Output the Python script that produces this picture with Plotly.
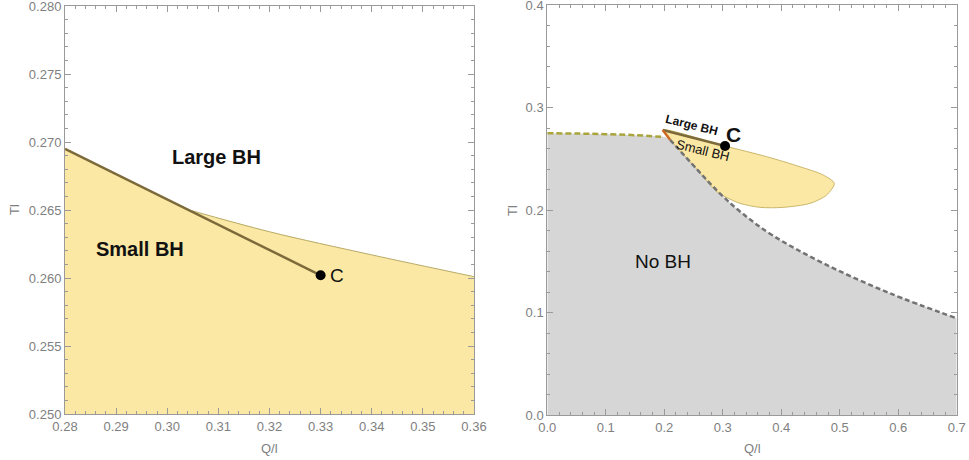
import plotly.graph_objects as go

# ---------------- Left panel data ----------------
left_boundary_x = [0.28, 0.3048, 0.32, 0.34, 0.36]
left_boundary_y = [0.2695, 0.26495, 0.2634, 0.2617, 0.2601]
left_coex_x = [0.28, 0.33]
left_coex_y = [0.2695, 0.2602]
left_spin_x = [0.3048, 0.32, 0.34, 0.36]
left_spin_y = [0.26495, 0.2634, 0.2617, 0.2601]
left_crit_x = [0.33]
left_crit_y = [0.2602]

# ---------------- Right panel data ----------------
nobh_x = [0.0, 0.05, 0.1, 0.15, 0.2, 0.21, 0.2554, 0.2953, 0.335, 0.386, 0.472, 0.586, 0.7]
nobh_y = [0.2748, 0.2746, 0.2740, 0.2730, 0.2712, 0.2685, 0.240, 0.216, 0.196, 0.175, 0.148, 0.1187, 0.0943]
top_dash_x = [0.0, 0.05, 0.1, 0.15, 0.2]
top_dash_y = [0.2748, 0.2746, 0.2740, 0.2730, 0.2712]
side_dash_x = [0.21, 0.2554, 0.2953, 0.335, 0.386, 0.472, 0.586, 0.7]
side_dash_y = [0.2685, 0.240, 0.216, 0.196, 0.175, 0.148, 0.1187, 0.0943]
lobe_x = [0.1973, 0.3039, 0.3751, 0.4321, 0.4719, 0.4907, 0.4775, 0.4492, 0.4035,
          0.3637, 0.3295, 0.3039, 0.2896, 0.2554, 0.21, 0.1973]
lobe_y = [0.278, 0.2624, 0.252, 0.2422, 0.2341, 0.226, 0.2146, 0.2065, 0.2026,
          0.2026, 0.2065, 0.213, 0.2179, 0.240, 0.2685, 0.278]
right_coex_x = [0.1973, 0.3039]
right_coex_y = [0.278, 0.2624]
orange_x = [0.1973, 0.21]
orange_y = [0.278, 0.2685]
right_crit_x = [0.3039]
right_crit_y = [0.2624]

left_xticks = [0.28, 0.29, 0.30, 0.31, 0.32, 0.33, 0.34, 0.35, 0.36]
left_yticks = [0.250, 0.255, 0.260, 0.265, 0.270, 0.275, 0.280]
right_xticks = [0.0, 0.1, 0.2, 0.3, 0.4, 0.5, 0.6, 0.7]
right_yticks = [0.0, 0.1, 0.2, 0.3, 0.4]

YELLOW = "#fbe8a4"
GRAY = "#d6d6d6"
COEX = "#7d6a3a"

W, H = 969, 460


def px_x(p):
    return p / W


def px_y(p):
    return 1 - p / H


fig = go.Figure()

# Left panel
fig.add_trace(go.Scatter(x=left_boundary_x, y=left_boundary_y, mode="lines",
                         fill="tozeroy", fillcolor=YELLOW, line=dict(width=0),
                         xaxis="x", yaxis="y", hoverinfo="skip"))
fig.add_trace(go.Scatter(x=left_spin_x, y=left_spin_y, mode="lines",
                         line=dict(color="#b8ab6a", width=1, shape="spline"),
                         xaxis="x", yaxis="y"))
fig.add_trace(go.Scatter(x=left_coex_x, y=left_coex_y, mode="lines",
                         line=dict(color=COEX, width=2.5), xaxis="x", yaxis="y"))
fig.add_trace(go.Scatter(x=left_crit_x, y=left_crit_y, mode="markers",
                         marker=dict(color="black", size=10), xaxis="x", yaxis="y"))

# Right panel
fig.add_trace(go.Scatter(x=nobh_x, y=nobh_y, mode="lines", fill="tozeroy",
                         fillcolor=GRAY, line=dict(width=0, shape="spline"),
                         xaxis="x2", yaxis="y2"))
fig.add_trace(go.Scatter(x=lobe_x, y=lobe_y, mode="lines", fill="toself",
                         fillcolor=YELLOW, line=dict(color="#c9b66a", width=1, shape="spline",
                                                     smoothing=0.8),
                         xaxis="x2", yaxis="y2"))
fig.add_trace(go.Scatter(x=top_dash_x, y=top_dash_y, mode="lines",
                         line=dict(color="#a9a43c", width=2.5, dash="6px,3px", shape="spline"),
                         xaxis="x2", yaxis="y2"))
fig.add_trace(go.Scatter(x=side_dash_x, y=side_dash_y, mode="lines",
                         line=dict(color="#737373", width=2.5, dash="5px,3px", shape="spline"),
                         xaxis="x2", yaxis="y2"))
fig.add_trace(go.Scatter(x=right_coex_x, y=right_coex_y, mode="lines",
                         line=dict(color=COEX, width=2.5), xaxis="x2", yaxis="y2"))
fig.add_trace(go.Scatter(x=orange_x, y=orange_y, mode="lines",
                         line=dict(color="#cc6a25", width=2.5), xaxis="x2", yaxis="y2"))
fig.add_trace(go.Scatter(x=right_crit_x, y=right_crit_y, mode="markers",
                         marker=dict(color="black", size=10), xaxis="x2", yaxis="y2"))

tickfont = dict(family="Liberation Sans, Arial, sans-serif", size=13, color="#808080")
common = dict(showgrid=False, zeroline=False, showline=True, linecolor="#9a9a9a",
              linewidth=1, mirror="allticks", ticks="inside", ticklen=6,
              tickcolor="#9a9a9a", tickfont=tickfont, automargin=False,
              ticklabeloverflow="allow")

fig.update_layout(
    width=W, height=H,
    margin=dict(l=0, r=0, t=0, b=0, autoexpand=False),
    paper_bgcolor="white", plot_bgcolor="white",
    showlegend=False,
    xaxis=dict(domain=[px_x(65), px_x(474)], range=[0.28, 0.36], tickvals=left_xticks,
               tickformat=".2f", anchor="y",
               minor=dict(ticks="inside", ticklen=3, dtick=0.002, tickcolor="#9a9a9a"),
               **common),
    yaxis=dict(domain=[px_y(414), px_y(6)], range=[0.25, 0.28], tickvals=left_yticks,
               tickformat=".3f", anchor="x",
               minor=dict(ticks="inside", ticklen=3, dtick=0.001, tickcolor="#9a9a9a"),
               **common),
    xaxis2=dict(domain=[px_x(547.3), px_x(956.7)], range=[0, 0.7], tickvals=right_xticks,
                tickformat=".1f", anchor="y2",
                minor=dict(ticks="inside", ticklen=3, dtick=0.02, tickcolor="#9a9a9a"),
                **common),
    yaxis2=dict(domain=[px_y(415), px_y(5)], range=[0, 0.4], tickvals=right_yticks,
                tickformat=".1f", anchor="x2",
                minor=dict(ticks="inside", ticklen=3, dtick=0.02, tickcolor="#9a9a9a"),
                **common),
)

lab = "Liberation Sans, Arial, sans-serif"
ann = [
    dict(x=0.3097, y=0.2689, xref="x", yref="y", text="<b>Large BH</b>", showarrow=False,
         font=dict(family=lab, size=20, color="#111")),
    dict(x=0.2947, y=0.2621, xref="x", yref="y", text="<b>Small BH</b>", showarrow=False,
         font=dict(family=lab, size=20, color="#111")),
    dict(x=0.3315, y=0.2602, xref="x", yref="y", text="C", showarrow=False, xanchor="left",
         font=dict(family=lab, size=19, color="#111")),
    dict(x=0.2468, y=0.2829, xref="x2", yref="y2", text="<b>Large BH</b>", showarrow=False,
         textangle=14, font=dict(family=lab, size=12, color="#111")),
    dict(x=0.2667, y=0.2585, xref="x2", yref="y2", text="Small BH", showarrow=False,
         textangle=14, font=dict(family=lab, size=13, color="#111")),
    dict(x=0.318, y=0.2732, xref="x2", yref="y2", text="<b>C</b>", showarrow=False,
         font=dict(family=lab, size=21, color="#111")),
    dict(x=0.1984, y=0.1496, xref="x2", yref="y2", text="No BH", showarrow=False,
         font=dict(family=lab, size=19, color="#111")),
    # axis titles
    dict(x=px_x(269.5), y=px_y(448), xref="paper", yref="paper", text="Q/l", showarrow=False,
         xanchor="center", yanchor="middle", font=dict(family=lab, size=13, color="#808080")),
    dict(x=px_x(752), y=px_y(448), xref="paper", yref="paper", text="Q/l", showarrow=False,
         xanchor="center", yanchor="middle", font=dict(family=lab, size=13, color="#808080")),
    dict(x=px_x(14), y=px_y(210), xref="paper", yref="paper", text="Tl", showarrow=False,
         xanchor="center", yanchor="middle", textangle=-90,
         font=dict(family=lab, size=13, color="#808080")),
    dict(x=px_x(512), y=px_y(210), xref="paper", yref="paper", text="Tl", showarrow=False,
         xanchor="center", yanchor="middle", textangle=-90,
         font=dict(family=lab, size=13, color="#808080")),
]
fig.update_layout(annotations=ann)

# remove the default page margin so the figure sits at the window's top-left corner
fig.write_html("out.html", config={"displayModeBar": False},
               post_script="document.body.style.margin='0px';document.body.style.overflow='hidden';")
